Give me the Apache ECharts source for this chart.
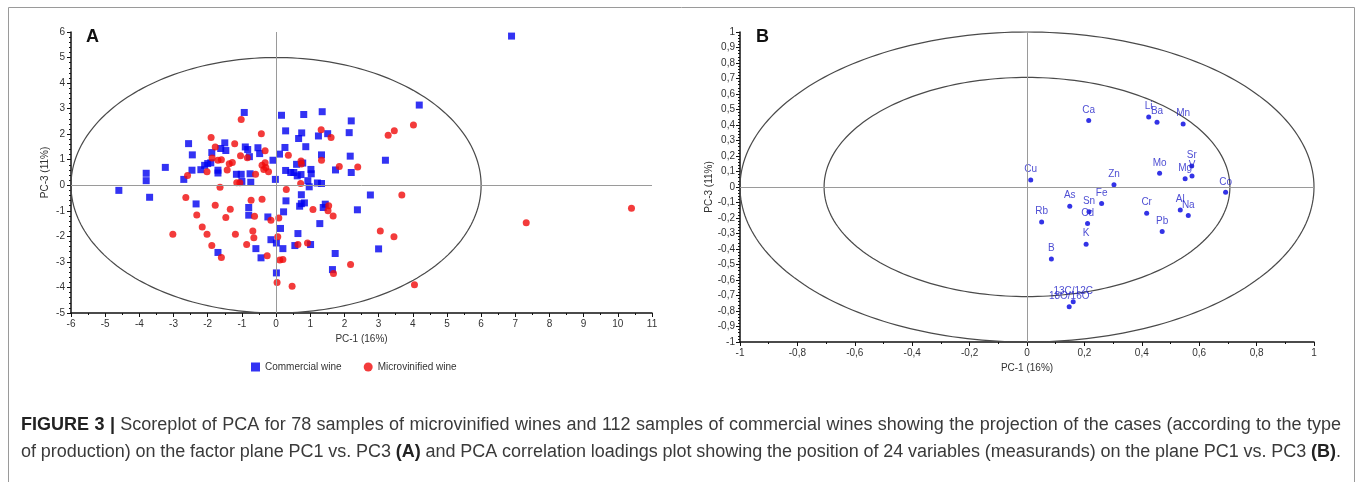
<!DOCTYPE html>
<html>
<head>
<meta charset="utf-8">
<script src="https://cdn.jsdelivr.net/npm/echarts@6/dist/echarts.min.js"></script>
<style>
  html, body { margin: 0; padding: 0; background: #fff; }
  #chart { width: 1357px; height: 482px; }
</style>
</head>
<body>
<div id="chart"></div>
<script>
// panel A: scores on PC1 / PC3
const commercial = [
  [-4.6, -0.2], [-3.8, 0.47], [-3.8, 0.18], [-3.7, -0.47], [-3.24, 0.7], [-2.7, 0.23],
  [-2.56, 1.63], [-2.45, 1.19], [-2.46, 0.59], [-2.2, 0.61], [-2.09, 0.78], [-2.0, 0.85],
  [-1.91, 0.88], [-1.88, 1.28], [-1.7, 0.59], [-1.7, 0.48], [-1.5, 1.66], [-1.47, 1.36],
  [-1.62, 1.44], [-1.16, 0.43], [-1.02, 0.43], [-0.93, 2.85], [-0.9, 1.5], [-0.83, 1.4],
  [-0.78, 1.12], [-0.76, 0.45], [-0.74, 0.12], [-1.0, 0.15], [-0.53, 1.47], [-0.48, 1.24],
  [-0.09, 0.98], [-0.02, 0.23], [0.1, 1.22], [0.16, 2.74], [0.26, 1.48], [0.28, 2.13],
  [0.28, 0.58], [0.43, 0.5], [0.52, 0.5], [0.62, 0.37], [0.66, 1.83], [0.75, 2.05],
  [0.81, 2.77], [0.78, 0.87], [0.6, 0.82], [0.73, 0.42], [0.87, 1.51], [1.02, 0.62],
  [1.03, 0.45], [0.93, 0.18], [0.97, -0.06], [1.21, 0.09], [1.33, 0.07], [1.24, 1.93],
  [1.33, 1.19], [1.35, 2.88], [1.51, 2.02], [1.74, 0.6], [2.14, 2.06], [2.2, 2.52],
  [2.17, 1.14], [2.2, 0.5], [2.76, -0.38], [3.2, 0.98], [4.19, 3.14], [6.89, 5.84],
  [-2.34, -0.73], [-1.7, -2.63], [-0.8, -0.87], [-0.8, -1.17], [-0.59, -2.48], [-0.44, -2.84],
  [-0.24, -1.24], [-0.15, -2.13], [0.01, -2.26], [0.01, -3.43], [0.13, -1.69], [0.2, -2.48],
  [0.22, -1.04], [0.29, -0.61], [0.64, -1.89], [0.55, -2.36], [0.74, -0.37], [0.74, -0.72],
  [0.83, -0.69], [0.69, -0.82], [1.01, -2.32], [1.28, -1.5], [1.38, -0.87], [1.44, -0.74],
  [1.73, -2.67], [1.65, -3.3], [2.38, -0.96], [3.0, -2.49]
];

const microvinified = [
  [-2.59, 0.38], [-2.02, 0.53], [-1.9, 1.87], [-1.87, 1.07], [-1.78, 1.5], [-1.7, 0.98],
  [-1.6, 1.0], [-1.43, 0.6], [-1.37, 0.84], [-1.28, 0.89], [-1.21, 1.63], [-1.15, 0.1],
  [-1.06, 0.1], [-1.04, 1.16], [-1.02, 2.57], [-0.84, 1.08], [-0.6, 0.43], [-0.43, 2.02],
  [-0.32, 1.35], [-0.41, 0.78], [-0.32, 0.88], [-0.3, 0.7], [-0.22, 0.53], [-0.36, 0.62],
  [0.36, 1.18], [0.73, 0.95], [0.74, 0.83], [0.72, 0.07], [1.32, 2.17], [1.33, 0.98],
  [1.61, 1.87], [1.85, 0.73], [2.39, 0.72], [-1.64, -0.08], [4.02, 2.36], [3.28, 1.96],
  [3.46, 2.13], [3.68, -0.38], [3.05, -1.79], [3.45, -2.02], [4.05, -3.89], [7.32, -1.47],
  [10.4, -0.9], [-3.02, -1.92], [-2.64, -0.48], [-2.32, -1.16], [-2.16, -1.63], [-2.02, -1.92],
  [-1.88, -2.36], [-1.78, -0.78], [-1.6, -2.83], [-1.47, -1.26], [-1.34, -0.94], [-1.19, -1.92],
  [-0.86, -2.32], [-0.73, -0.59], [-0.68, -1.79], [-0.65, -2.05], [-0.63, -1.21], [-0.41, -0.55],
  [-0.26, -2.76], [-0.15, -1.37], [0.03, -3.81], [0.05, -2.02], [0.08, -1.28], [0.11, -2.93],
  [0.2, -2.91], [0.3, -0.17], [0.47, -3.95], [0.64, -2.32], [0.92, -2.26], [1.08, -0.95],
  [1.54, -0.8], [1.52, -1.0], [1.67, -1.2], [1.68, -3.45], [2.18, -3.1]
];

// panel B: correlation loadings
const loadingNames = ['Ca', 'Li', 'Ba', 'Mn', 'Mo', 'Sr', 'V', 'Mg', 'Co', 'Cu', 'Zn', 'Fe',
  'As', 'Sn', 'Cd', 'K', 'Rb', 'Cr', 'Al', 'Na', 'Pb', 'B', '13C/12C', '18O/16O'];
const loadingX = [0.215, 0.424, 0.453, 0.544, 0.462, 0.574, 0.575, 0.551, 0.692, 0.013, 0.303, 0.26,
  0.149, 0.216, 0.211, 0.206, 0.051, 0.417, 0.534, 0.562, 0.471, 0.085, 0.161, 0.147];
const loadingY = [0.429, 0.452, 0.418, 0.407, 0.088, 0.135, 0.071, 0.053, -0.034, 0.045, 0.015, -0.107,
  -0.124, -0.159, -0.236, -0.369, -0.225, -0.169, -0.148, -0.184, -0.287, -0.465, -0.74, -0.772];

// ellipses: centre x, centre y, radius x, radius y
const ellipseA = [[0, 0, 6, 5]];
const ellipseB = [[0, 0, 1, 1], [0, 0, 0.707, 0.707]];

// caption, one entry per printed line, {b|..} = bold
const captionLines = [
  '{b|FIGURE} {b|3} {b||} Scoreplot of PCA for 78 samples of microvinified wines and 112 samples of commercial wines showing the projection of the cases (according to the type',
  'of production) on the factor plane PC1 vs. PC3 {b|(A)} and PCA correlation loadings plot showing the position of 24 variables (measurands) on the plane PC1 vs. PC3 {b|(B)}.'
];

const FONT = 'Liberation Sans';
const chart = echarts.init(document.getElementById('chart'));

function renderEllipse(params, api) {
  const cx = api.value(0), cy = api.value(1), rx = api.value(2), ry = api.value(3);
  const pts = [];
  for (let i = 0; i <= 240; i++) {
    const t = i / 240 * Math.PI * 2;
    pts.push(api.coord([cx + rx * Math.cos(t), cy + ry * Math.sin(t)]));
  }
  return {
    type: 'polyline',
    silent: true,
    shape: { points: pts },
    style: { stroke: '#4a4a4a', lineWidth: 1.2, fill: null }
  };
}

function comma(v) {
  const r = Math.round(v * 10) / 10;
  return String(r).replace('.', ',');
}

function axisBase(extra) {
  return Object.assign({
    type: 'value',
    splitLine: { show: false },
    axisLine: { show: true, onZero: false, lineStyle: { color: '#111', width: 1.5 } },
    axisTick: { show: true, length: 4, lineStyle: { color: '#111' } },
    minorTick: { show: true, length: 2, lineStyle: { color: '#111' } },
    axisLabel: { color: '#333', fontSize: 10, fontFamily: FONT, margin: 6 },
    nameLocation: 'middle',
    nameTextStyle: { color: '#333', fontSize: 10, fontFamily: FONT }
  }, extra);
}

// justified caption: words are spread so each line fills the box width
const CAP_SIZE = 18;
const measureCtx = document.createElement('canvas').getContext('2d');
function wordWidth(w) {
  let width = 0;
  w.replace(/\{b\|([^}]*)\}|([^{]+)/g, (m, bold, plain) => {
    measureCtx.font = (bold !== undefined ? 'bold ' : '') + CAP_SIZE + 'px "' + FONT + '"';
    width += measureCtx.measureText(bold !== undefined ? bold : plain).width;
  });
  return width;
}
function captionGraphics(x0, x1, y0, lineH) {
  const out = [];
  captionLines.forEach((line, li) => {
    const words = line.split(' ');
    const widths = words.map(wordWidth);
    const total = widths.reduce((a, b) => a + b, 0);
    const gap = (x1 - x0 - total) / (words.length - 1);
    let x = x0;
    words.forEach((w, i) => {
      out.push({
        type: 'text', x: x, y: y0 + li * lineH, silent: true,
        style: {
          text: w, fill: '#3a3a3a', fontSize: CAP_SIZE, fontFamily: FONT,
          rich: { b: { fontWeight: 'bold', fill: '#222', fontSize: CAP_SIZE, fontFamily: FONT } }
        }
      });
      x += widths[i] + gap;
    });
  });
  return out;
}

const cross = {
  silent: true,
  symbol: ['none', 'none'],
  label: { show: false },
  lineStyle: { color: '#9a9a9a', type: 'solid', width: 1 },
  data: [{ xAxis: 0 }, { yAxis: 0 }]
};

chart.setOption({
  animation: false,
  backgroundColor: '#fff',
  grid: [
    { left: 71, top: 32, width: 581, height: 281 },
    { left: 740, top: 32, width: 574, height: 310 }
  ],
  xAxis: [
    axisBase({ gridIndex: 0, min: -6, max: 11, interval: 1, name: 'PC-1 (16%)', nameGap: 19,
      minorTick: { show: true, splitNumber: 2, length: 2, lineStyle: { color: '#111' } } }),
    axisBase({ gridIndex: 1, min: -1, max: 1, interval: 0.2, name: 'PC-1 (16%)', nameGap: 18,
      axisLabel: { color: '#333', fontSize: 10, fontFamily: FONT, margin: 6, formatter: comma },
      minorTick: { show: true, splitNumber: 2, length: 2, lineStyle: { color: '#111' } } })
  ],
  yAxis: [
    axisBase({ gridIndex: 0, min: -5, max: 6, interval: 1, name: 'PC-3 (11%)', nameGap: 21,
      minorTick: { show: true, splitNumber: 5, length: 2, lineStyle: { color: '#111' } } }),
    axisBase({ gridIndex: 1, min: -1, max: 1, interval: 0.1, name: 'PC-3 (11%)', nameGap: 26,
      axisLabel: { color: '#333', fontSize: 10, fontFamily: FONT, margin: 5, formatter: comma },
      minorTick: { show: true, splitNumber: 5, length: 2, lineStyle: { color: '#111' } } })
  ],
  legend: {
    left: 246, top: 357,
    itemWidth: 9, itemHeight: 9, itemGap: 22,
    textStyle: { color: '#333', fontSize: 10, fontFamily: FONT },
    data: [
      { name: 'Commercial wine', icon: 'rect' },
      { name: 'Microvinified wine', icon: 'circle' }
    ]
  },
  series: [
    {
      type: 'custom', xAxisIndex: 0, yAxisIndex: 0, clip: false,
      renderItem: renderEllipse, data: ellipseA, silent: true, z: 1,
      markLine: cross
    },
    {
      name: 'Commercial wine', type: 'scatter', xAxisIndex: 0, yAxisIndex: 0,
      symbol: 'rect', symbolSize: 7, itemStyle: { color: '#0000f0' }, data: commercial, z: 3
    },
    {
      name: 'Microvinified wine', type: 'scatter', xAxisIndex: 0, yAxisIndex: 0,
      symbol: 'circle', symbolSize: 7, itemStyle: { color: '#f00a0a' }, data: microvinified, z: 4
    },
    {
      type: 'custom', xAxisIndex: 1, yAxisIndex: 1, clip: false,
      renderItem: renderEllipse, data: ellipseB, silent: true, z: 1,
      markLine: cross
    },
    {
      name: 'Loadings', type: 'scatter', xAxisIndex: 1, yAxisIndex: 1,
      symbol: 'circle', symbolSize: 5, itemStyle: { color: '#0000e0' }, z: 3,
      label: {
        show: true, position: 'top', distance: 3,
        formatter: p => p.name,
        color: '#2020c8', fontSize: 10, fontFamily: FONT
      },
      labelLayout: { hideOverlap: false },
      data: loadingNames.map((n, i) => ({ name: n, value: [loadingX[i], loadingY[i]] }))
    }
  ],
  graphic: [
    { type: 'rect', silent: true, shape: { x: 8.5, y: 7.5, width: 1346, height: 480 },
      style: { fill: null, stroke: '#9a9a9a', lineWidth: 1 } },
    { type: 'text', x: 86, y: 28, style: { text: 'A', fill: '#111', fontSize: 18, fontWeight: 'bold', fontFamily: FONT } },
    { type: 'text', x: 756, y: 28, style: { text: 'B', fill: '#111', fontSize: 18, fontWeight: 'bold', fontFamily: FONT } }
  ].concat(captionGraphics(21, 1341, 416, 27))
});
</script>
</body>
</html>
